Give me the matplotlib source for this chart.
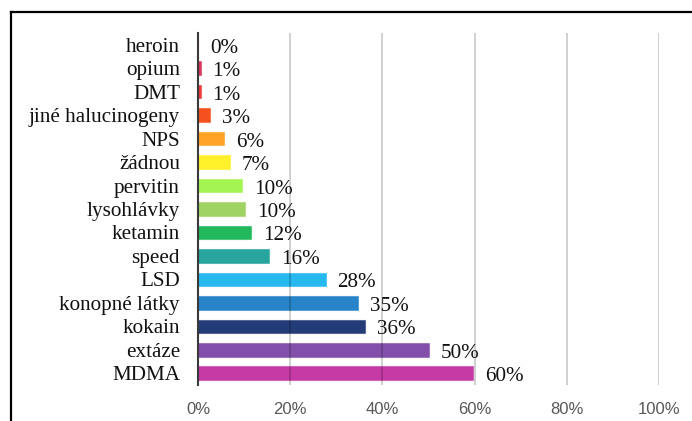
import matplotlib.pyplot as plt
from matplotlib.lines import Line2D
import matplotlib.colors as mcolors

drugs = ["heroin", "opium", "DMT", "jiné halucinogeny", "NPS", "žádnou", "pervitin",
         "lysohlávky", "ketamin", "speed", "LSD", "konopné látky", "kokain", "extáze", "MDMA"]
shares = [0.0, 0.6, 0.6, 2.6, 5.7, 6.9, 9.6, 10.2, 11.6, 15.5, 27.7, 34.8, 36.2, 50.0, 59.7]
labels = ["0%", "1%", "1%", "3%", "6%", "7%", "10%", "10%", "12%", "16%", "28%", "35%", "36%", "50%", "60%"]
colors = ["#c0305a", "#d9365f", "#ee3b3b", "#f4511e", "#ffa326", "#fff02a", "#a4f552",
          "#9fd363", "#22b85c", "#27a59e", "#26b8ee", "#2784c8", "#233c78", "#8250aa", "#c53aa5"]
xticks = [0, 20, 40, 60, 80, 100]

fig = plt.figure(figsize=(6.92, 4.21), dpi=100)
ax = fig.add_axes([198 / 692, 1 - 385 / 421, 461 / 692, 352 / 421])

edges = [mcolors.to_rgba(c, 0.55) for c in colors]
ax.barh(range(len(drugs)), shares, height=0.58, color=colors,
        edgecolor=edges, linewidth=0.8, zorder=1)

for i, (v, lab) in enumerate(zip(shares, labels)):
    ax.annotate(lab, (v, i), xytext=(8.5, -2.5), textcoords="offset points",
                va="center", ha="left", fontsize=15.2, family="Liberation Serif", color="#111111")

ax.set_xlim(0, 100)
ax.set_ylim(14.5, -0.5)
ax.set_xticks(xticks)
ax.set_xticklabels([f"{t}%" for t in xticks], family="Liberation Sans", fontsize=12, color="#595959")
ax.set_yticks(range(len(drugs)))
ax.set_yticklabels(drugs, family="Liberation Serif", fontsize=15.2, color="#111111")
ax.tick_params(axis="both", length=0)
ax.tick_params(axis="x", pad=12)
ax.tick_params(axis="y", pad=13)

# gridlines sit over the bars, faintly visible through them as in the original
ax.grid(axis="x", color="black", alpha=0.2, linewidth=1.3, zorder=2)
ax.set_axisbelow(False)
for s in ["top", "right", "bottom"]:
    ax.spines[s].set_visible(False)
ax.spines["left"].set_color("#3a3a3a")
ax.spines["left"].set_linewidth(1.5)
ax.spines["left"].set_zorder(3)

# frame of the original picture (only top and left edges are visible)
fig.add_artist(Line2D([10.5 / 692, 1], [1 - 12 / 421, 1 - 12 / 421], color="black", linewidth=1.6))
fig.add_artist(Line2D([11 / 692, 11 / 692], [0, 1 - 12 / 421], color="black", linewidth=1.6))

fig.savefig("out.png", dpi=100)
